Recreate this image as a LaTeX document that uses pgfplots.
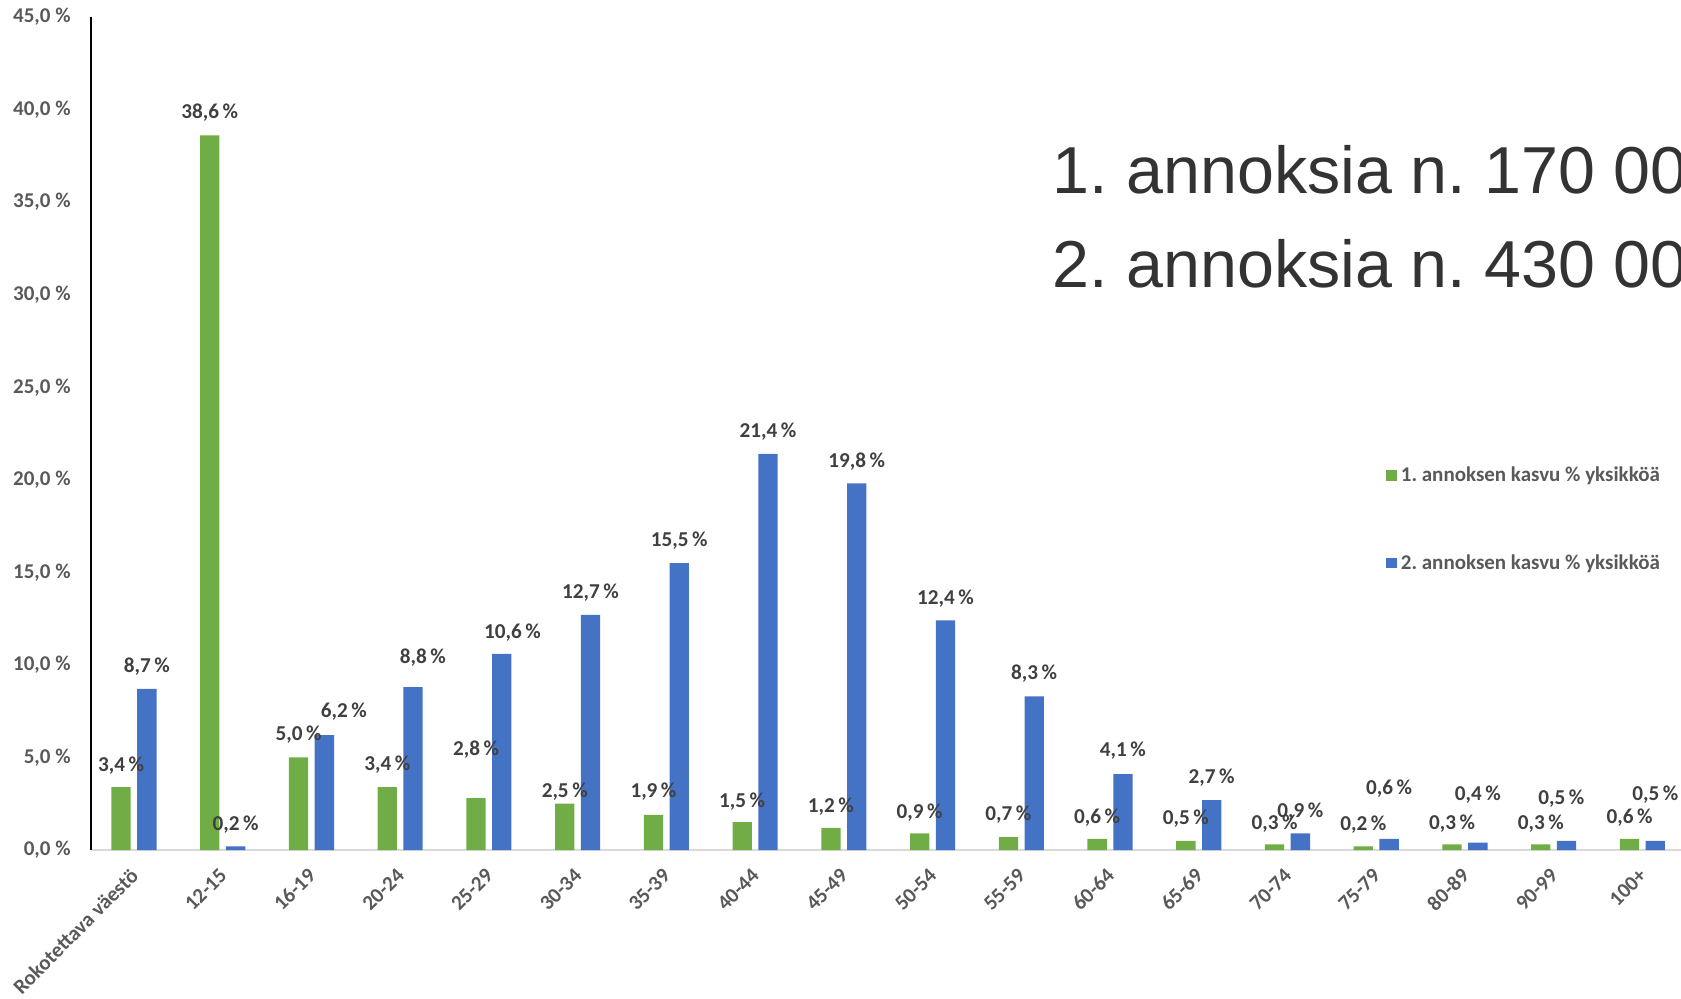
\documentclass[border=0pt]{standalone}
\usepackage{pgfplots}
\pgfplotsset{compat=1.18}
\usepackage{pgfplotstable}
\usepackage{fontspec}
\setmainfont{Carlito}
\newfontfamily\arialfont{Liberation Sans}
\frenchspacing

\definecolor{g1}{HTML}{70AD47}
\definecolor{b1}{HTML}{4472C4}
\definecolor{tickgray}{HTML}{595959}
\definecolor{labgray}{HTML}{404040}
\definecolor{biggray}{HTML}{333333}

% values in %, label positions (gy, by) in data units, bdx = extra x shift of blue label
\pgfplotstableread{
x first second gy    by    bdx
0   3.4  8.7   4.57  9.90  0
1  38.6  0.2  39.84  1.39  0
2   5.0  6.2   6.25  7.47  0.22
3   3.4  8.8   4.63 10.42  0.11
4   2.8 10.6   5.40 11.72  0.12
5   2.5 12.7   3.13 13.88  0
6   1.9 15.5   3.13 16.73  0
7   1.5 21.4   2.62 22.60  0
8   1.2 19.8   2.32 21.00  0
9   0.9 12.4   2.00 13.58  0
10  0.7  8.3   1.89  9.53  0
11  0.6  4.1   1.73  5.37  0
12  0.5  2.7   1.68  3.92  0
13  0.3  0.9   1.45  2.07  0
14  0.2  0.6   1.39  3.33  0
15  0.3  0.4   1.45  3.00  0
16  0.3  0.5   1.45  2.77 -0.06
17  0.6  0.5   1.74  3.00  0
}\data

\begin{document}
\begin{tikzpicture}
\path[use as bounding box] (-45.5pt,-74pt) rectangle (795pt,425pt);
\begin{axis}[
  scale only axis,
  width=795pt, height=416.5pt,
  xmin=-0.4846, xmax=17.435,
  ymin=0, ymax=45,
  clip=false,
  axis x line=bottom, axis y line=left,
  axis line style={-},
  x axis line style={draw=black!15, line width=0.8pt},
  y axis line style={draw=black, line width=1.2pt},
  major tick length=0pt,
  xtick={0,...,17},
  xticklabels={Rokotettava väestö,12-15,16-19,20-24,25-29,30-34,35-39,40-44,45-49,50-54,55-59,60-64,65-69,70-74,75-79,80-89,90-99,100+},
  ytick={0,5,...,45},
  yticklabels={{0,0 \%},{5,0 \%},{10,0 \%},{15,0 \%},{20,0 \%},{25,0 \%},{30,0 \%},{35,0 \%},{40,0 \%},{45,0 \%}},
  tick label style={font=\fontsize{10.5}{12}\selectfont\bfseries, text=tickgray},
  xticklabel style={xshift=0.3pt, yshift=-11pt, rotate=45, anchor=east, inner sep=0pt},
  yticklabel style={anchor=east, inner sep=0pt, xshift=-10pt},
  legend style={at={(axis description cs:0.8145,0.397)}, anchor=west,
    draw=none, fill=none, inner sep=0pt, row sep=31pt,
    font=\fontsize{10.5}{12.5}\selectfont\bfseries, text=tickgray},
  legend cell align=left,
  lab/.style={draw=none, mark=none, forget plot,
    nodes near coords={\pgfmathprintnumber[fixed,fixed zerofill,precision=1,use comma,assume math mode=true]{\pgfplotspointmeta}\,\%},
    point meta=explicit,
    every node near coord/.append style={anchor=center, inner sep=0pt,
      font=\fontsize{10.6}{12}\selectfont\bfseries, text=labgray}},
]
\addplot[ybar, bar width=9.65pt, bar shift=-6.45pt, fill=g1, draw=none,
  legend image code/.code={\fill[g1] (0pt,-2.6pt) rectangle (5.2pt,2.6pt);}]
  table[x=x, y=first] {\data};
\addplot[ybar, bar width=9.65pt, bar shift=6.45pt, fill=b1, draw=none,
  legend image code/.code={\fill[b1] (0pt,-2.6pt) rectangle (5.2pt,2.6pt);}]
  table[x=x, y=second] {\data};
\legend{1. annoksen kasvu \% yksikköä, 2. annoksen kasvu \% yksikköä}

\addplot[lab, every node near coord/.append style={xshift=-6.45pt}]
  table[x=x, y=gy, meta=first] {\data};
\addplot[lab, every node near coord/.append style={xshift=6.45pt}]
  table[x expr=\thisrow{x}+\thisrow{bdx}, y=by, meta=second] {\data};

\node[anchor=base west, inner sep=0pt, text=biggray,
  font=\arialfont\fontsize{33.2}{36}\selectfont]
  at (axis description cs:0.6045,0.7887) {1. annoksia n. 170 00};
\node[anchor=base west, inner sep=0pt, text=biggray,
  font=\arialfont\fontsize{33.2}{36}\selectfont]
  at (axis description cs:0.6045,0.6747) {2. annoksia n. 430 00};
\end{axis}
\end{tikzpicture}
\end{document}
